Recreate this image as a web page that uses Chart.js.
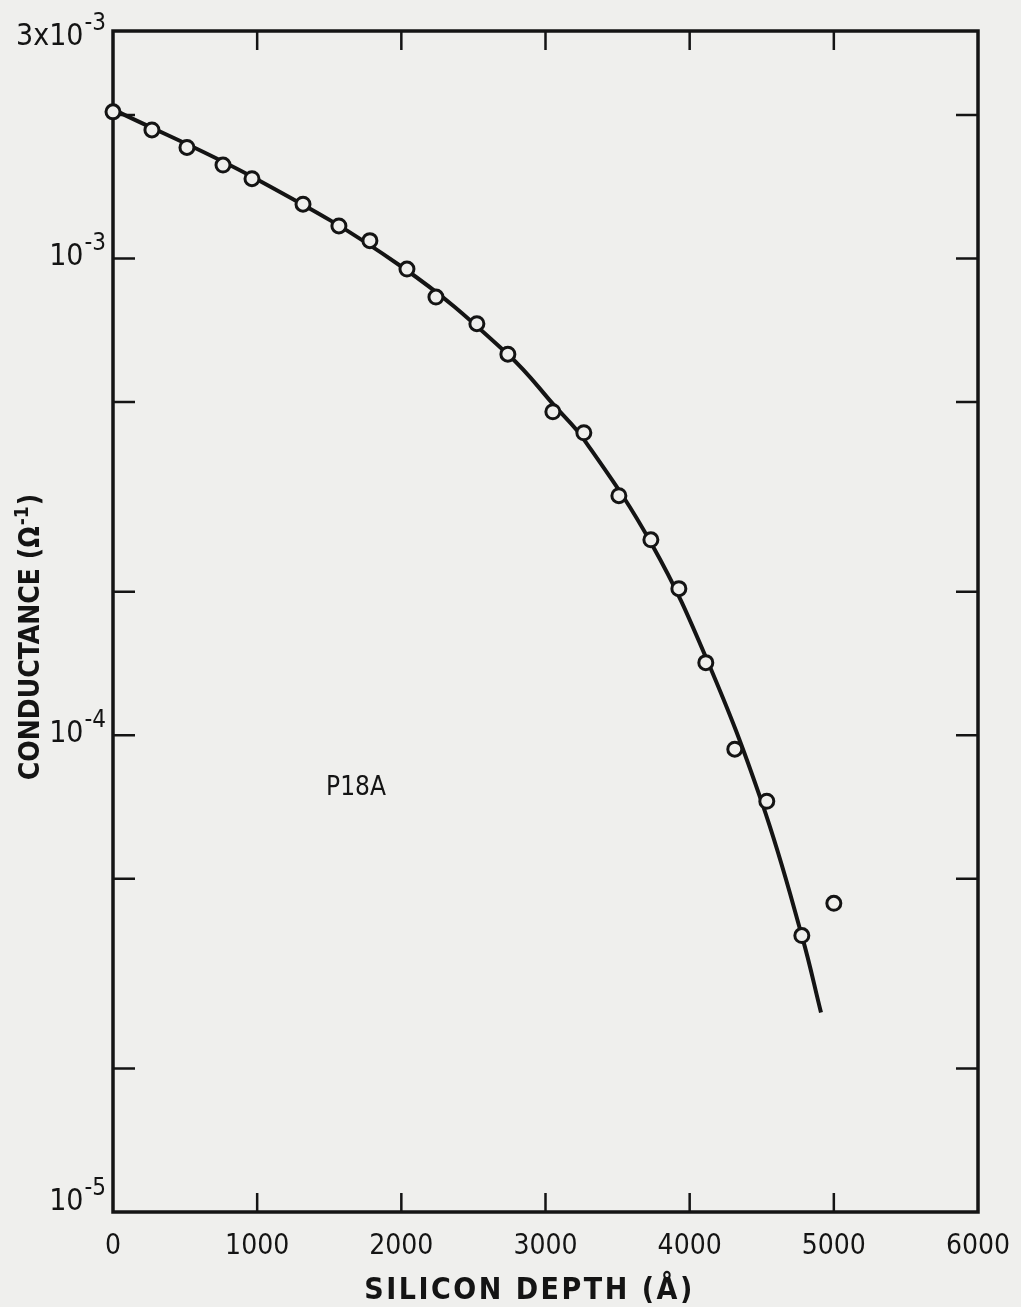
<!DOCTYPE html>
<html>
<head>
<meta charset="utf-8">
<script src="https://cdn.jsdelivr.net/npm/chart.js@4"></script>
<style>
  html, body { margin: 0; padding: 0; background: #efefed; }
  #wrap { width: 1021px; height: 1307px; }
</style>
</head>
<body>
<div id="wrap"><canvas id="chart" width="1021" height="1307"></canvas></div>
<script>
// ----------------------------------------
// data (depth in Å, conductance in 1/ohm)
// ----------------------------------------
const pointDepth = [0, 270, 513, 763, 964, 1318, 1567, 1782, 2039, 2240, 2524,
                    2739, 3051, 3266, 3509, 3731, 3925, 4112, 4313, 4535, 4778, 5000];
const pointConductance = [2.03e-3, 1.86e-3, 1.71e-3, 1.57e-3, 1.47e-3, 1.30e-3, 1.17e-3,
                          1.09e-3, 9.5e-4, 8.3e-4, 7.3e-4, 6.3e-4, 4.77e-4, 4.31e-4,
                          3.18e-4, 2.57e-4, 2.03e-4, 1.42e-4, 9.35e-5, 7.27e-5, 3.8e-5, 4.44e-5];

// hand-drawn fit curve, traced at a few places
const curveDepth = [0, 1000, 2000, 2740, 3073, 3267, 3739, 4120, 4502, 4779, 4911];
const curveConductance = [2.055e-3, 1.465e-3, 9.62e-4, 6.29e-4, 4.87e-4, 4.17e-4, 2.51e-4,
                          1.44e-4, 7.21e-5, 3.79e-5, 2.62e-5];

const xTicks = [0, 1000, 2000, 3000, 4000, 5000, 6000];
const yTicks = [1e-5, 2e-5, 5e-5, 1e-4, 2e-4, 5e-4, 1e-3, 2e-3];
const yLabels = [
    { value: 3e-3, base: '3x10', exp: '-3' },
    { value: 1e-3, base: '10', exp: '-3' },
    { value: 1e-4, base: '10', exp: '-4' },
    { value: 1e-5, base: '10', exp: '-5' }
];

const INK = '#141414';
const PAPER = '#efefed';
const FONT = '"DejaVu Sans Condensed", "DejaVu Sans", sans-serif';

// ----------------------------------------
// frame, inward ticks, y labels, titles
// ----------------------------------------
const paperPlugin = {
    id: 'paper',
    beforeDraw(chart) {
        const ctx = chart.ctx;
        ctx.save();
        ctx.fillStyle = PAPER;
        ctx.fillRect(0, 0, chart.width, chart.height);
        ctx.restore();
    },
    beforeDatasetsDraw(chart) {
        const { ctx, chartArea: a, scales: { x, y } } = chart;
        ctx.save();
        ctx.strokeStyle = INK;
        ctx.lineWidth = 3.5;
        ctx.lineCap = 'square';
        ctx.strokeRect(a.left, a.top, a.right - a.left, a.bottom - a.top);

        ctx.lineWidth = 2.5;
        ctx.lineCap = 'butt';
        ctx.beginPath();
        xTicks.slice(1, -1).forEach(v => {
            const px = x.getPixelForValue(v);
            ctx.moveTo(px, a.bottom); ctx.lineTo(px, a.bottom - 19);
            ctx.moveTo(px, a.top); ctx.lineTo(px, a.top + 19);
        });
        yTicks.slice(1).forEach(v => {
            const py = y.getPixelForValue(v);
            ctx.moveTo(a.left, py); ctx.lineTo(a.left + 22, py);
            ctx.moveTo(a.right, py); ctx.lineTo(a.right - 22, py);
        });
        ctx.stroke();
        ctx.restore();
    },
    afterDraw(chart) {
        const { ctx, chartArea: a, scales: { y } } = chart;
        ctx.save();
        ctx.fillStyle = INK;

        // y tick labels with superscript exponents
        const baseFont = '30px ' + FONT;
        const expFont = '24px ' + FONT;
        yLabels.forEach(l => {
            const py = y.getPixelForValue(l.value);
            ctx.font = expFont;
            const ew = ctx.measureText(l.exp).width;
            const right = a.left - 7;
            const baseY = l.value === 3e-3 ? py + 14 : (l.value === 1e-5 ? py - 2 : py + 7);
            ctx.textBaseline = 'alphabetic';
            ctx.font = baseFont;
            ctx.textAlign = 'right';
            ctx.fillText(l.base, right - ew - 1, baseY);
            ctx.font = expFont;
            ctx.textAlign = 'left';
            ctx.fillText(l.exp, right - ew, baseY - 15);
        });

        // x axis title
        ctx.font = 'bold 30px ' + FONT;
        ctx.letterSpacing = '2.5px';
        ctx.textAlign = 'center';
        ctx.textBaseline = 'alphabetic';
        ctx.fillText('SILICON DEPTH (\u00C5)', (a.left + a.right) / 2 - 16, 1299);
        ctx.letterSpacing = '0px';

        // y axis title, rotated
        ctx.translate(32, 638);
        ctx.rotate(-Math.PI / 2);
        ctx.textBaseline = 'middle';
        const main = 'CONDUCTANCE (\u03A9';
        ctx.font = 'bold 28px ' + FONT;
        const mw = ctx.measureText(main).width;
        ctx.font = 'bold 19px ' + FONT;
        const sw = ctx.measureText('-1').width;
        ctx.font = 'bold 28px ' + FONT;
        const sx = -(mw + sw + ctx.measureText(')').width) / 2;
        ctx.textAlign = 'left';
        ctx.fillText(main, sx, 0);
        ctx.font = 'bold 19px ' + FONT;
        ctx.fillText('-1', sx + mw + 1, -9);
        ctx.font = 'bold 28px ' + FONT;
        ctx.fillText(')', sx + mw + sw + 2, 0);
        ctx.restore();

        // sample label
        ctx.save();
        ctx.fillStyle = INK;
        ctx.font = '26px ' + FONT;
        ctx.textAlign = 'center';
        ctx.textBaseline = 'middle';
        ctx.fillText('P18A', 356, 788);
        ctx.restore();
    }
};

// ----------------------------------------
// chart
// ----------------------------------------
const curvePoints = curveDepth.map((d, i) => ({ x: d, y: curveConductance[i] }));
const markPoints = pointDepth.map((d, i) => ({ x: d, y: pointConductance[i] }));

new Chart(document.getElementById('chart'), {
    type: 'scatter',
    data: {
        datasets: [
            {
                type: 'line',
                label: 'fit',
                data: curvePoints,
                borderColor: INK,
                borderWidth: 4,
                pointRadius: 0,
                tension: 0.4,
                fill: false,
                clip: false,
                order: 2
            },
            {
                label: 'P18A',
                data: markPoints,
                pointStyle: 'circle',
                pointRadius: 7,
                pointBorderWidth: 3,
                borderColor: INK,
                backgroundColor: PAPER,
                clip: false,
                order: 1
            }
        ]
    },
    options: {
        responsive: false,
        animation: false,
        events: [],
        layout: { padding: { top: 31, right: 43, left: 0, bottom: 0 } },
        plugins: { legend: { display: false }, tooltip: { enabled: false } },
        scales: {
            x: {
                type: 'linear',
                min: 0,
                max: 6000,
                afterBuildTicks(scale) { scale.ticks = xTicks.map(v => ({ value: v })); },
                afterFit(scale) { scale.height = 95; },
                grid: { display: false },
                border: { display: false },
                ticks: {
                    color: INK,
                    padding: 10,
                    maxRotation: 0,
                    font: { family: FONT, size: 28 },
                    callback: v => String(v)
                },
                title: { display: false }
            },
            y: {
                type: 'logarithmic',
                min: 1e-5,
                max: 3e-3,
                afterBuildTicks(scale) { scale.ticks = yTicks.map(v => ({ value: v })); },
                afterFit(scale) { scale.width = 113; },
                grid: { display: false },
                border: { display: false },
                ticks: { display: false }
            }
        }
    },
    plugins: [paperPlugin]
});
</script>
</body>
</html>
